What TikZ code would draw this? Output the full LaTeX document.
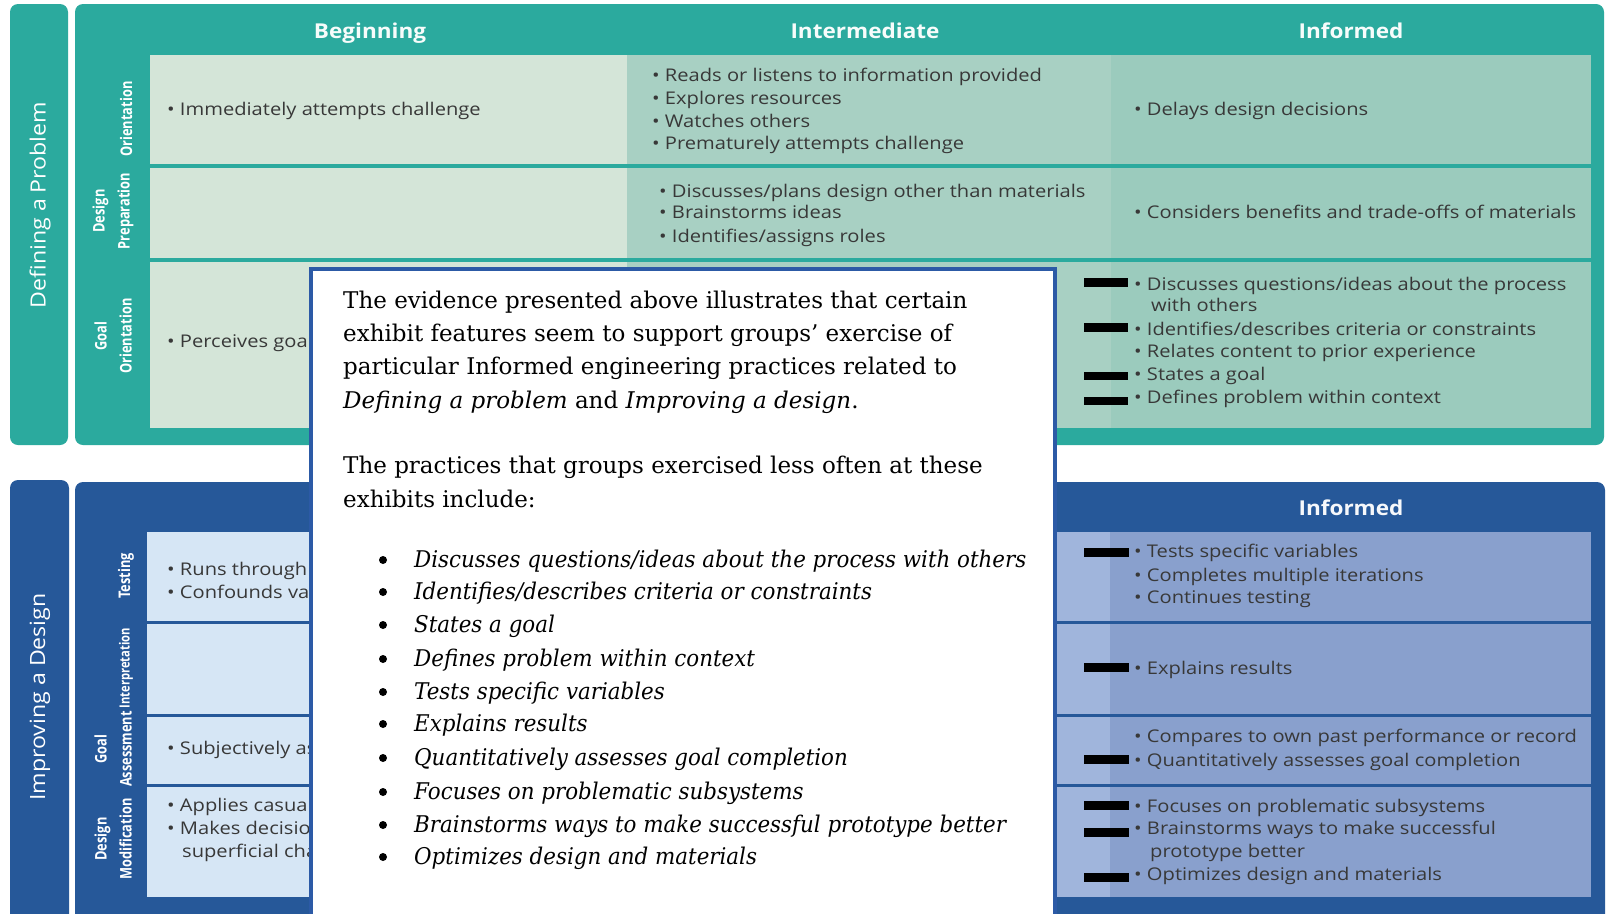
\documentclass[tikz,border=0pt]{standalone}
\usepackage{fontspec}
\setmainfont{DejaVu Serif}
\newfontfamily\listfont{DejaVu Serif}[FakeStretch=0.93]
\newfontfamily\cellfont{Open Sans}[FakeStretch=1.15]
\newfontfamily\hdrfont{Open Sans}[FakeStretch=1.1]
\newfontfamily\lblfont{Open Sans}[FakeStretch=0.8]
\definecolor{teal}{HTML}{2BAA9E}
\definecolor{tealB}{HTML}{D4E5D8}
\definecolor{tealI}{HTML}{A8D0C3}
\definecolor{tealF}{HTML}{9BCBBD}
\definecolor{blueP}{HTML}{265899}
\definecolor{blueB}{HTML}{D6E6F5}
\definecolor{blueI}{HTML}{A0B5DC}
\definecolor{blueF}{HTML}{89A0CD}
\definecolor{celltext}{HTML}{383838}
\definecolor{boxline}{HTML}{2C5AA6}
\tikzset{
  cell/.style={font=\cellfont\fontsize{17.5}{20}\selectfont, text=celltext, anchor=base west, inner sep=0pt},
  hdr/.style={font=\hdrfont\bfseries\fontsize{20.5}{24}\selectfont, text=white!96!teal, anchor=base, inner sep=0pt},
  side/.style={font=\hdrfont\fontsize{21}{25}\selectfont, text=white, rotate=90, inner sep=0pt},
  rowlbl/.style={font=\lblfont\bfseries\fontsize{16}{25}\selectfont, text=white, rotate=90, inner sep=0pt, align=center},
  para/.style={font=\fontsize{23}{33}\selectfont, anchor=base west, inner sep=0pt},
  item/.style={font=\listfont\itshape\fontsize{23}{33}\selectfont, anchor=base west, inner sep=0pt},
  dot/.style={circle, fill=black, inner sep=0pt, minimum size=8pt},
  redact/.style={fill=black},
}
\begin{document}
\begin{tikzpicture}[x=1pt,y=-1pt]
\useasboundingbox (0,0) rectangle (1608,913);
\clip (0,0) rectangle (1608,913);
\fill[white] (0,0) rectangle (1608,913);
% ---------- top section ----------
\fill[teal, rounded corners=8pt] (10,4) rectangle (68,445);
\fill[teal, rounded corners=8pt] (75,4) rectangle (1604,445);
\foreach \ya/\yb in {55/164,168/258,262/428}{
  \fill[tealB] (150,\ya) rectangle (627,\yb);
  \fill[tealI] (627,\ya) rectangle (1111,\yb);
  \fill[tealF] (1111,\ya) rectangle (1591,\yb);
}
\node[side] (s1) at (40,205) {Defining a Problem};
\node[hdr] (h1) at (370,38) {Beginning};
\node[hdr] (h2) at (865,38) {Intermediate};
\node[hdr] (h3) at (1351,38) {Informed};
\node[rowlbl] (r1) at (126,119) {Orientation};
\node[rowlbl] (r2) at (113,211) {Design\\Preparation};
\node[rowlbl] (r3) at (113,336) {Goal\\Orientation};
\node[cell] (t1) at (167,115) {• Immediately attempts challenge};
\node[cell] (t2) at (167,347) {• Perceives goal};
\node[cell] (t3) at (652,81) {• Reads or listens to information provided};
\node[cell] (t4) at (652,104) {• Explores resources};
\node[cell] (t5) at (652,127) {• Watches others};
\node[cell] (t6) at (652,149) {• Prematurely attempts challenge};
\node[cell] (t7) at (659,197) {• Discusses/plans design other than materials};
\node[cell] (t8) at (659,218) {• Brainstorms ideas};
\node[cell] (t9) at (659,242) {• Identifies/assigns roles};
\node[cell] (t10) at (1134,115) {• Delays design decisions};
\node[cell] (t11) at (1134,218) {• Considers benefits and trade-offs of materials};
\node[cell] (t12) at (1134,290) {• Discusses questions/ideas about the process};
\node[cell] (t13) at (1151,311) {with others};
\node[cell] (t14) at (1134,335) {• Identifies/describes criteria or constraints};
\node[cell] (t15) at (1134,357) {• Relates content to prior experience};
\node[cell] (t16) at (1134,380) {• States a goal};
\node[cell] (t17) at (1134,403) {• Defines problem within context};
\fill[redact] (1084,278) rectangle (1128,287);
\fill[redact] (1084,323) rectangle (1128,332);
\fill[redact] (1084,372) rectangle (1128,380);
\fill[redact] (1084,397) rectangle (1128,405);
% ---------- bottom section ----------
\fill[blueP, rounded corners=8pt] (10,480) rectangle (69,940);
\fill[blueP, rounded corners=8pt] (75,482) rectangle (1605,940);
\foreach \ya/\yb in {532/621,624/714,717/784,787/897}{
  \fill[blueB] (147,\ya) rectangle (627,\yb);
  \fill[blueI] (627,\ya) rectangle (1110,\yb);
  \fill[blueF] (1110,\ya) rectangle (1591,\yb);
}
\node[side] (s2) at (40,697) {Improving a Design};
\node[hdr, text=white!96!blueP] (h4) at (1351,515) {Informed};
\node[rowlbl] (r4) at (126,576) {Testing};
\node[rowlbl, font=\lblfont\bfseries\fontsize{14}{25}\selectfont] (r5) at (126,668) {Interpretation};
\node[rowlbl] (r6) at (113,749) {Goal\\Assessment};
\node[rowlbl] (r7) at (113,839) {Design\\Modification};
\node[cell] (b1) at (167,575) {• Runs through};
\node[cell] (b2) at (167,598) {• Confounds variables};
\node[cell] (b3) at (167,754) {• Subjectively assesses};
\node[cell] (b4) at (167,811) {• Applies casual};
\node[cell] (b5) at (167,834) {• Makes decisions};
\node[cell] (b6) at (182,857) {superficial changes};
\node[cell] (b7) at (1134,557) {• Tests specific variables};
\node[cell] (b8) at (1134,581) {• Completes multiple iterations};
\node[cell] (b9) at (1134,603) {• Continues testing};
\node[cell] (b10) at (1134,674) {• Explains results};
\node[cell] (b11) at (1134,742) {• Compares to own past performance or record};
\node[cell] (b12) at (1134,766) {• Quantitatively assesses goal completion};
\node[cell] (b13) at (1134,812) {• Focuses on problematic subsystems};
\node[cell] (b14) at (1134,834) {• Brainstorms ways to make successful};
\node[cell] (b15) at (1150,857) {prototype better};
\node[cell] (b16) at (1134,880) {• Optimizes design and materials};
\fill[redact] (1084,548) rectangle (1129,557);
\fill[redact] (1084,663) rectangle (1129,672);
\fill[redact] (1084,755) rectangle (1129,764);
\fill[redact] (1084,801) rectangle (1129,810);
\fill[redact] (1084,828) rectangle (1129,837);
\fill[redact] (1084,873) rectangle (1129,882);
% ---------- overlay box ----------
\draw[boxline, line width=3.5pt, fill=white] (311,269) rectangle (1055,930);
\node[para] (p1) at (343,308) {The evidence presented above illustrates that certain};
\node[para] (p2) at (343,341) {exhibit features seem to support groups’ exercise of};
\node[para] (p3) at (343,374) {particular Informed engineering practices related to};
\node[para] (p4) at (343,408) {\textit{Defining a problem} and \textit{Improving a design}.};
\node[para] (p5) at (343,473) {The practices that groups exercised less often at these};
\node[para] (p6) at (343,507) {exhibits include:};
\foreach \y/\t [count=\i] in {
  567/{Discusses questions/ideas about the process with others},
  599/{Identifies/describes criteria or constraints},
  632/{States a goal},
  666/{Defines problem within context},
  699/{Tests specific variables},
  731/{Explains results},
  765/{Quantitatively assesses goal completion},
  799/{Focuses on problematic subsystems},
  832/{Brainstorms ways to make successful prototype better},
  864/{Optimizes design and materials}}{
  \node[dot] (d\i) at (383,\y-7) {};
  \node[item] (l\i) at (414,\y) {\t};
}
\end{tikzpicture}
\end{document}
